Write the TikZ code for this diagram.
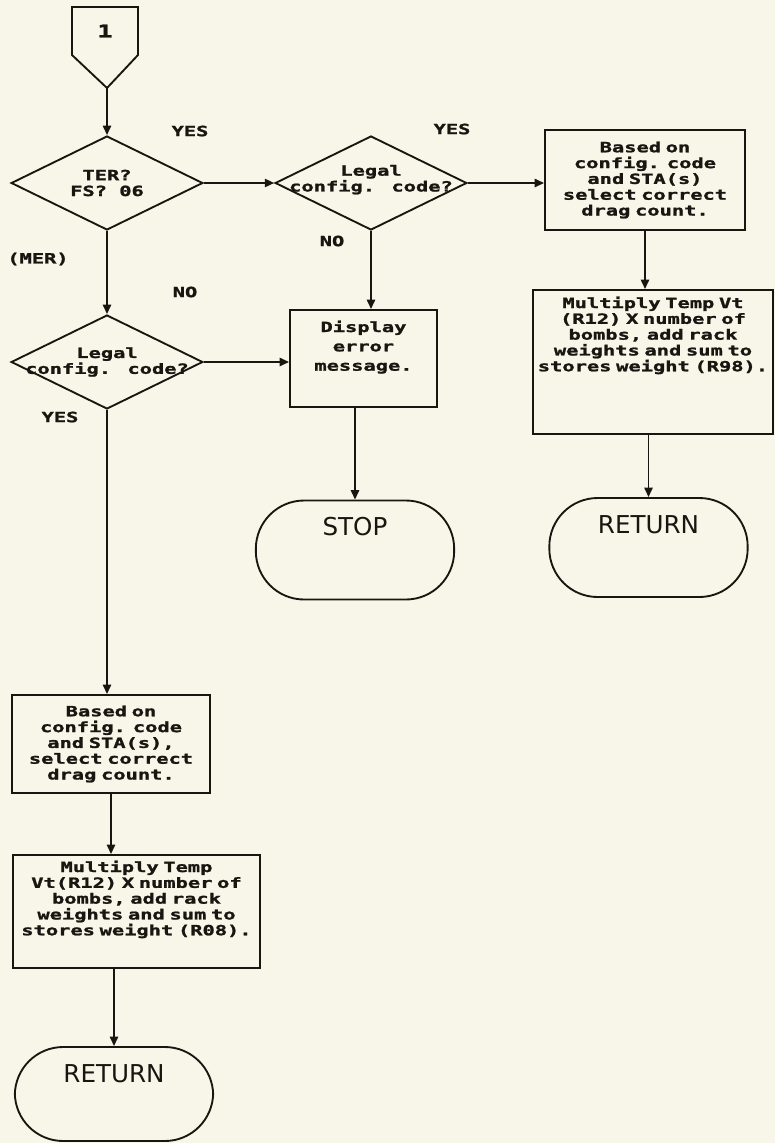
\documentclass[tikz,border=0pt]{standalone}
\usepackage{fontspec}
\setmainfont{DejaVu Sans}
\newfontfamily\plotfont{DejaVu Sans Mono Bold}[FakeStretch=1.45,FakeBold=1.5]
\usepackage{tikz}
\usetikzlibrary{shapes.geometric,arrows.meta}
\definecolor{paper}{RGB}{248,246,232}
\definecolor{ink}{RGB}{25,22,18}

\begin{document}
\begin{tikzpicture}[x=0.03cm,y=-0.03cm,color=ink,line width=1.6pt,
	every node/.style={inner sep=0pt},
	txt/.style={font=\plotfont\fontsize{12}{13.5}\selectfont},
	dec/.style={diamond,draw,minimum width=5.75cm,minimum height=2.82cm},
	proc/.style={draw,align=center,txt},
	endbox/.style={draw,rounded corners=1.45cm,minimum width=5.95cm,
		text height=1.05cm,text depth=1.92cm,font=\fontsize{21}{24}\selectfont},
	arr/.style={-{Triangle[length=8pt,width=7pt]}}]
	
	\fill[paper] (0,0) rectangle (775,1143);
	\useasboundingbox (0,0) rectangle (775,1143);
	
	% off-page connector
	\coordinate (tip) at (107,88);
	\draw (72,7) -- (138,7) -- (138,55) -- (tip) -- (72,55) -- cycle;
	\node[font=\plotfont\fontsize{15}{15}\selectfont] (one) at (105,31) {1};
	
	% decisions
	\node[dec,label={[txt,align=center]center:TER?\\FS? 06}] (ter) at (107,183) {};
	\node[dec,label={[txt,align=center,yshift=0.1cm]center:Legal\\config. code?}] (legalA) at (371,183) {};
	\node[dec,label={[txt,align=center]center:Legal\\config. code?}] (legalB) at (107,362) {};
	
	% right branch
	\node[proc,text width=6cm,minimum height=3cm] (dragA) at (645,180)
		{Based on\\config. code\\and STA(s)\\select correct\\drag count.};
	\node[proc,text width=7.2cm,text height=0.54cm,text depth=3.78cm] (wtA) at (653,362)
		{Multiply Temp Vt\\(R12) X number of\\bombs, add rack\\weights and sum to\\stores weight (R98).};
	\node[endbox] (retA) at (648.5,547.5) {RETURN};
	
	% error branch
	\node[proc,text width=4.41cm,text height=0.66cm,text depth=2.25cm] (err) at (363.5,358.5)
		{Display\\[3pt]error\\[3pt]message.};
	\node[endbox] (stop) at (355,550) {STOP};
	
	% left branch
	\node[proc,text width=5.94cm,minimum height=2.94cm] (dragB) at (111,744)
		{Based on\\config. code\\and STA(s),\\select correct\\drag count.};
	\node[proc,text width=7.41cm,text height=0.51cm,text depth=2.88cm] (wtB) at (136.5,911.5)
		{Multiply Temp\\Vt(R12) X number of\\bombs, add rack\\weights and sum to\\stores weight (R08).};
	\node[endbox,text depth=1.77cm] (retB) at (114,1094) {RETURN};
	
	% branch labels
	\node[txt] (yesA) at (190,131) {YES};
	\node[txt] (yesB) at (452,129) {YES};
	\node[txt] (noA) at (332,241) {NO};
	\node[txt] (mer) at (38,259) {(MER)};
	\node[txt] (noB) at (185,292) {NO};
	\node[txt] (yesC) at (60,417) {YES};
	
	% flow lines
	\draw[arr] (tip) -- (ter.north);
	\draw[arr] (ter.east) -- (legalA.west);
	\draw[arr] (legalA.east) -- (legalA.east -| dragA.west);
	\draw[arr] (dragA.south) -- (dragA.south |- wtA.north);
	\draw[arr] (retA.north |- wtA.south) -- (retA.north);
	\draw[arr] (legalA.south) -- (legalA.south |- err.north);
	\draw[arr] (stop.north |- err.south) -- (stop.north);
	\draw[arr] (ter.south) -- (legalB.north);
	\draw[arr] (legalB.east) -- (legalB.east -| err.west);
	\draw[arr] (legalB.south) -- (legalB.south |- dragB.north);
	\draw[arr] (dragB.south) -- (dragB.south |- wtB.north);
	\draw[arr] (retB.north |- wtB.south) -- (retB.north);
	
\end{tikzpicture}
\end{document}
